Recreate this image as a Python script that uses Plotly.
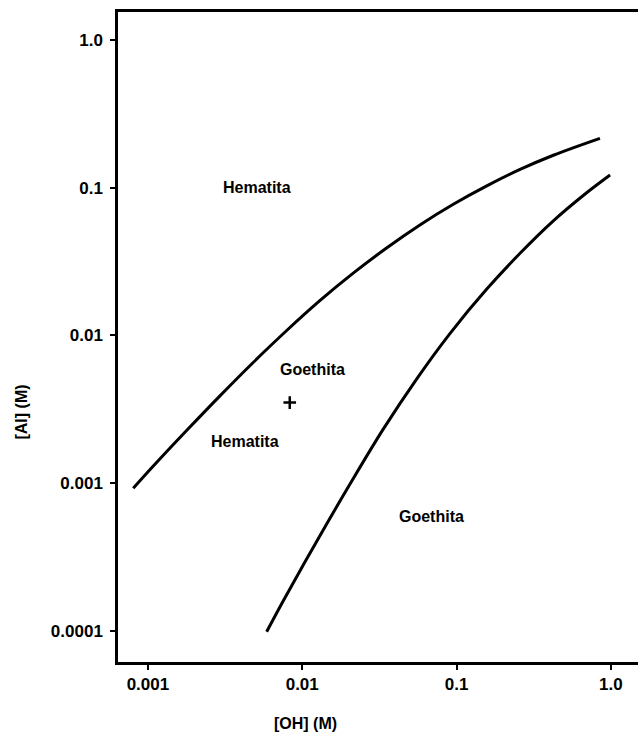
import math
import plotly.graph_objects as go

# Boundary between hematite and the goethite+hematite field
upper_oh = [0.000803, 0.00108, 0.00178, 0.00293, 0.00481, 0.00793, 0.0130,
            0.0214, 0.0352, 0.0579, 0.0953, 0.157, 0.258, 0.424, 0.850]
upper_al = [0.000923, 0.00130, 0.00227, 0.00390, 0.00656, 0.0108, 0.0172,
            0.0264, 0.0391, 0.0560, 0.0773, 0.103, 0.133, 0.166, 0.216]

# Boundary between the mixed field and goethite
lower_oh = [0.00588, 0.00754, 0.0124, 0.0204, 0.0335, 0.0551, 0.0906,
            0.157, 0.258, 0.424, 0.697, 0.989]
lower_al = [0.0000986, 0.000160, 0.000403, 0.000986, 0.00232, 0.00507,
            0.0103, 0.0206, 0.0360, 0.0597, 0.0925, 0.122]

# Field labels
label_text = ["Hematita", "Goethita", "Hematita", "Goethita"]
label_oh = [0.00508, 0.0117, 0.00426, 0.0693]
label_al = [0.100, 0.00588, 0.00191, 0.000593]

# Point marking the mixed field
cross_oh = [0.0083]
cross_al = [0.00351]

x_tickvals = [0.001, 0.01, 0.1, 1.0]
x_ticktext = ["0.001", "0.01", "0.1", "1.0"]
y_tickvals = [1.0, 0.1, 0.01, 0.001, 0.0001]
y_ticktext = ["1.0", "0.1", "0.01", "0.001", "0.0001"]

FONT = "Liberation Sans, Arial, sans-serif"

fig = go.Figure()
fig.add_trace(go.Scatter(x=upper_oh, y=upper_al, mode="lines",
                         line=dict(color="black", width=3, shape="spline"),
                         showlegend=False))
fig.add_trace(go.Scatter(x=lower_oh, y=lower_al, mode="lines",
                         line=dict(color="black", width=3, shape="spline"),
                         showlegend=False))
fig.add_trace(go.Scatter(x=cross_oh, y=cross_al, mode="markers",
                         marker=dict(symbol="cross-thin", size=9,
                                     line=dict(color="black", width=2.5)),
                         showlegend=False))

# annotation positions on log axes are given as log10 values
for t, xv, yv in zip(label_text, label_oh, label_al):
    fig.add_annotation(x=math.log10(xv), y=math.log10(yv), xref="x", yref="y",
                       text=t, showarrow=False,
                       font=dict(family=FONT, size=16, color="black", weight="bold"),
                       xanchor="center", yanchor="middle")

fig.add_annotation(x=-0.185, y=0.385, xref="paper", yref="paper",
                   text="[Al] (M)", textangle=-90, showarrow=False,
                   font=dict(family=FONT, size=16, color="black", weight="bold"),
                   xanchor="center", yanchor="middle")
fig.add_annotation(x=0.3615, y=-0.094, xref="paper", yref="paper",
                   text="[OH] (M)", showarrow=False,
                   font=dict(family=FONT, size=16, color="black", weight="bold"),
                   xanchor="center", yanchor="middle")

fig.update_xaxes(type="log", range=[-3.194, 0.176],
                 tickvals=x_tickvals, ticktext=x_ticktext,
                 ticks="outside", ticklen=5, tickwidth=2, tickcolor="black",
                 showline=True, linecolor="black", linewidth=2.5, mirror=True,
                 showgrid=False, zeroline=False,
                 tickfont=dict(family=FONT, size=17, color="black", weight="bold"))
fig.update_yaxes(type="log", range=[-4.211, 0.190],
                 tickvals=y_tickvals, ticktext=y_ticktext,
                 ticks="outside", ticklen=5, tickwidth=2, tickcolor="black",
                 ticklabelstandoff=4,
                 showline=True, linecolor="black", linewidth=2.5, mirror=False,
                 showgrid=False, zeroline=False,
                 tickfont=dict(family=FONT, size=17, color="black", weight="bold"))

fig.update_layout(width=638, height=735,
                  margin=dict(l=118, r=0, t=12, b=73),
                  paper_bgcolor="white", plot_bgcolor="white")

fig.write_html("out.html")
